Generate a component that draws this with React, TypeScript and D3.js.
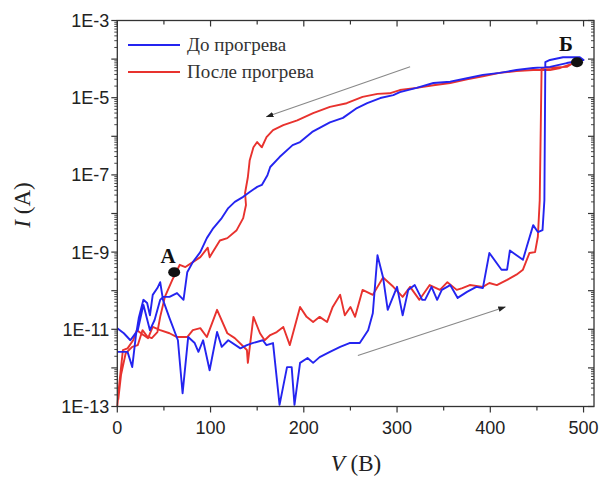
import React from "react";
import * as d3 from "d3";

// I–V sweeps: forward (low branch) up to ~460 V, switching, then back down the upper branch.
const sweepBefore: [number, number][] = [
  [0, 2.6e-12], [11, 2.6e-12], [16, 1.05e-12], [20, 7.1e-12], [23, 1.95e-11], [28, 5.8e-11],
  [32, 4.8e-11], [35, 2.3e-11], [38, 7.8e-11], [43, 1.17e-10], [46, 1.66e-10], [49, 5.8e-11],
  [56, 1.95e-11], [65, 5.2e-12], [70, 2.2e-13], [76, 6.3e-12], [83, 4.4e-12], [87, 2.6e-12],
  [92, 5.2e-12], [99, 8.7e-13], [107, 8.5e-12], [112, 3.5e-12], [119, 5.2e-12], [132, 3.2e-12],
  [139, 3.9e-12], [145, 4.4e-12], [156, 5.2e-12], [160, 3.9e-12], [167, 4.4e-12], [174, 1.1e-13],
  [182, 1.05e-12], [187, 1.05e-12], [190, 1.1e-13], [196, 1.35e-12], [204, 1.8e-12], [210, 1.35e-12],
  [217, 1.9e-12], [228, 2.6e-12], [239, 3.5e-12], [249, 4.4e-12], [260, 4.4e-12], [269, 9.5e-12],
  [274, 2.6e-11], [279, 8.3e-10], [285, 2.2e-10], [290, 3.2e-11], [300, 1.26e-10], [306, 2.3e-11],
  [312, 1.05e-10], [319, 1.4e-10], [327, 5.8e-11], [330, 5.8e-11], [337, 1.26e-10], [343, 5.8e-11],
  [348, 1.05e-10], [357, 1.4e-10], [365, 6.5e-11], [375, 9.3e-11], [385, 1.26e-10], [392, 1.17e-10],
  [399, 9.5e-10], [412, 3.5e-10], [418, 3.5e-10], [421, 1.1e-9], [435, 6.3e-10], [439, 1.35e-9],
  [446, 5.0e-9], [451, 3.3e-9], [456, 3.7e-9], [458, 2.2e-8], [459, 8.3e-5], [464, 9.5e-5],
  [478, 1.12e-4], [496, 1.12e-4], [500, 9.5e-5], [482, 7.9e-5], [464, 6.3e-5], [446, 5.9e-5],
  [428, 5.2e-5], [410, 4.4e-5], [392, 3.9e-5], [375, 3.2e-5], [357, 2.6e-5], [339, 2.4e-5],
  [321, 1.8e-5], [303, 1.4e-5], [296, 1.17e-5], [282, 9.8e-6], [268, 7.2e-6], [257, 5.4e-6],
  [242, 3.0e-6], [228, 2.3e-6], [217, 1.66e-6], [209, 1.3e-6], [196, 7.1e-7], [188, 5.9e-7],
  [174, 2.9e-7], [164, 1.6e-7], [161, 9.8e-8], [155, 5.5e-8], [150, 4.9e-8], [142, 3.6e-8],
  [135, 2.7e-8], [126, 2.0e-8], [119, 1.38e-8], [112, 7.6e-9], [103, 4.2e-9], [96, 2.3e-9],
  [89, 1.0e-9], [81, 5.5e-10], [75, 3.0e-10], [71, 5.8e-11], [64, 8.7e-11], [56, 6.9e-11],
  [49, 6.9e-11], [46, 5.8e-11], [40, 1.74e-11], [35, 9.5e-12], [28, 4.3e-11], [22, 9.5e-12],
  [14, 5.2e-12], [7, 7.9e-12], [0, 1.07e-11],
];

const sweepAfter: [number, number][] = [
  [0, 1.0e-13], [2, 3.6e-13], [6, 2.9e-12], [11, 3.2e-12], [17, 5.2e-12], [21, 9.5e-12],
  [28, 7.1e-12], [33, 5.9e-12], [38, 1.15e-11], [46, 9.5e-12], [56, 7.9e-12], [64, 6.3e-12],
  [75, 6.3e-12], [81, 9.5e-12], [89, 1.07e-11], [96, 6.3e-12], [107, 3.2e-11], [118, 7.9e-12],
  [126, 5.9e-12], [139, 2.9e-12], [140, 1.35e-12], [146, 2.1e-11], [153, 7.9e-12], [158, 5.2e-12],
  [164, 7.1e-12], [171, 8.5e-12], [178, 1.15e-11], [185, 3.9e-12], [196, 3.8e-11], [203, 2.1e-11],
  [210, 1.55e-11], [217, 2.1e-11], [225, 1.55e-11], [231, 3.8e-11], [239, 7.8e-11], [244, 2.3e-11],
  [250, 3.8e-11], [255, 2.1e-11], [263, 1.05e-10], [274, 7.8e-11], [285, 2.2e-10], [296, 1.26e-10],
  [306, 6.9e-11], [314, 1.26e-10], [324, 5.8e-11], [335, 1.4e-10], [346, 1.05e-10], [354, 1.66e-10],
  [364, 1.05e-10], [370, 1.17e-10], [378, 1.4e-10], [392, 1.26e-10], [399, 1.58e-10], [407, 1.4e-10],
  [418, 1.9e-10], [428, 2.6e-10], [435, 3.5e-10], [442, 9.5e-10], [448, 1.0e-9], [451, 2.5e-9],
  [453, 2.2e-8], [455, 5.9e-5], [482, 6.3e-5], [489, 7.9e-5], [493, 8.3e-5], [475, 5.9e-5],
  [464, 5.2e-5], [446, 5.2e-5], [428, 4.9e-5], [410, 4.4e-5], [392, 3.6e-5], [375, 3.0e-5],
  [357, 2.4e-5], [339, 2.1e-5], [321, 1.8e-5], [303, 1.58e-5], [292, 1.3e-5], [279, 1.26e-5],
  [263, 1.05e-5], [246, 7.2e-6], [228, 5.8e-6], [210, 4.0e-6], [193, 2.6e-6], [178, 1.95e-6],
  [167, 1.45e-6], [160, 9.5e-7], [155, 5.2e-7], [150, 7.1e-7], [146, 5.2e-7], [142, 2.4e-7],
  [140, 8.7e-8], [137, 3.4e-8], [138, 1.66e-8], [135, 7.6e-9], [128, 3.7e-9], [118, 2.3e-9],
  [110, 2.0e-9], [99, 7.4e-10], [97, 1.3e-9], [89, 7.4e-10], [81, 5.5e-10], [73, 4.1e-10],
  [67, 4.7e-10], [59, 1.9e-10], [51, 6.9e-11], [46, 2.1e-11], [43, 8.5e-12], [37, 5.9e-12],
  [32, 6.6e-12], [27, 9.5e-12], [22, 3.9e-12], [16, 3.5e-12], [9, 2.4e-12], [4, 6.6e-13],
  [1, 1.5e-13],
];

const seriesNames = ["До прогрева", "После прогрева"];
const seriesColors = ["#2424f0", "#e8322e"];

// Marked states on the curves
const statePoints: { label: string; v: number; i: number }[] = [
  { label: "А", v: 61, i: 3.0e-10 },
  { label: "Б", v: 493, i: 8.3e-5 },
];

// Sweep-direction arrows, [V, I] from -> to
const sweepArrows: [[number, number], [number, number]][] = [
  [[314, 6.3e-5], [160, 3.2e-6]],
  [[258, 2.1e-12], [416, 3.8e-11]],
];

const xMajor = [0, 100, 200, 300, 400, 500];
const xMinor = [50, 150, 250, 350, 450];
const yLabels = ["1E-3", "1E-5", "1E-7", "1E-9", "1E-11", "1E-13"];

const W = 604;
const H = 477;
const left = 117.3;
const right = 594;
const top = 20.5;
const bottom = 406.5;

export default function App() {
  const x = d3.scaleLinear().domain([0, 511.2]).range([left, right]);
  const y = d3.scaleLog().domain([1e-13, 1e-3]).range([bottom, top]);

  const line = d3
    .line<[number, number]>()
    .x((d) => x(d[0]))
    .y((d) => y(d[1]));

  const decades = d3.range(-13, -2).map((e) => Math.pow(10, e));
  const minors: number[] = [];
  for (let e = -13; e < -3; e++) {
    for (let k = 2; k <= 9; k++) minors.push(k * Math.pow(10, e));
  }

  const axisColor = "#333";
  const tickFont = "'Liberation Sans', Arial, sans-serif";
  const serif = "'Liberation Serif', 'Times New Roman', serif";

  return (
    <svg
      width={W}
      height={H}
      viewBox={`0 0 ${W} ${H}`}
      style={{ position: "absolute", left: 0, top: 0, background: "#fff" }}
    >
      <defs>
        <marker id="arrowHead" viewBox="0 0 10 10" refX="9" refY="5" markerWidth="7" markerHeight="7" orient="auto">
          <path d="M0,1.5 L10,5 L0,8.5 z" fill="#222" />
        </marker>
      </defs>

      {/* data curves */}
      <g fill="none" strokeWidth={1.9} strokeLinejoin="round">
        <path d={line(sweepAfter) ?? ""} stroke={seriesColors[1]} />
        <path d={line(sweepBefore) ?? ""} stroke={seriesColors[0]} />
      </g>

      {/* sweep-direction arrows */}
      {sweepArrows.map(([a, b], k) => (
        <line
          key={`arr${k}`}
          x1={x(a[0])}
          y1={y(a[1])}
          x2={x(b[0])}
          y2={y(b[1])}
          stroke="#888"
          strokeWidth={1.1}
          markerEnd="url(#arrowHead)"
        />
      ))}

      {/* marked states */}
      {statePoints.map((p) => (
        <g key={p.label}>
          <ellipse cx={x(p.v)} cy={y(p.i)} rx={6} ry={5} fill="#111" />
          <text
            x={x(p.v) - (p.label === "Б" ? 11 : 6)}
            y={y(p.i) - (p.label === "Б" ? 11 : 9)}
            textAnchor="middle"
            fontFamily={serif}
            fontWeight="bold"
            fontSize={21}
            fill="#111"
          >
            {p.label}
          </text>
        </g>
      ))}

      {/* frame */}
      <rect x={left} y={top} width={right - left} height={bottom - top} fill="none" stroke={axisColor} strokeWidth={1.3} />

      {/* x ticks: bottom outward, top inward */}
      <g stroke={axisColor} strokeWidth={1.2}>
        {xMajor.map((v) => (
          <g key={`xm${v}`}>
            <line x1={x(v)} x2={x(v)} y1={bottom} y2={bottom + 6} />
            <line x1={x(v)} x2={x(v)} y1={top} y2={top + 6} />
          </g>
        ))}
        {xMinor.map((v) => (
          <g key={`xn${v}`}>
            <line x1={x(v)} x2={x(v)} y1={bottom} y2={bottom + 4} />
            <line x1={x(v)} x2={x(v)} y1={top} y2={top + 4} />
          </g>
        ))}
        {decades.map((d) => (
          <g key={`yd${d}`}>
            <line x1={left - 6} x2={left} y1={y(d)} y2={y(d)} />
            <line x1={right - 6} x2={right} y1={y(d)} y2={y(d)} />
          </g>
        ))}
        {minors.map((d) => (
          <g key={`ym${d}`}>
            <line x1={left - 3} x2={left} y1={y(d)} y2={y(d)} strokeWidth={0.9} />
            <line x1={right - 3} x2={right} y1={y(d)} y2={y(d)} strokeWidth={0.9} />
          </g>
        ))}
      </g>

      {/* tick labels */}
      <g fontFamily={tickFont} fontSize={18} fill="#222">
        {xMajor.map((v) => (
          <text key={`xl${v}`} x={x(v)} y={bottom + 27} textAnchor="middle">
            {v}
          </text>
        ))}
        {yLabels.map((t) => (
          <text key={t} x={left - 8} y={y(Number(t)) + 6.5} textAnchor="end">
            {t}
          </text>
        ))}
      </g>

      {/* axis titles */}
      <text
        transform={`translate(30, 205) rotate(-90)`}
        textAnchor="middle"
        fontFamily={serif}
        fontSize={23}
        fill="#222"
      >
        <tspan fontStyle="italic">I</tspan>
        <tspan> (A)</tspan>
      </text>
      <text x={356} y={471} textAnchor="middle" fontFamily={serif} fontSize={23} fill="#222">
        <tspan fontStyle="italic">V</tspan>
        <tspan> (В)</tspan>
      </text>

      {/* legend */}
      <g fontFamily={serif} fontSize={19} fill="#333">
        {seriesNames.map((name, k) => (
          <g key={name}>
            <line x1={128} x2={180} y1={45 + k * 27} y2={45 + k * 27} stroke={seriesColors[k]} strokeWidth={1.9} />
            <text x={187} y={51 + k * 27}>
              {name}
            </text>
          </g>
        ))}
      </g>
    </svg>
  );
}
